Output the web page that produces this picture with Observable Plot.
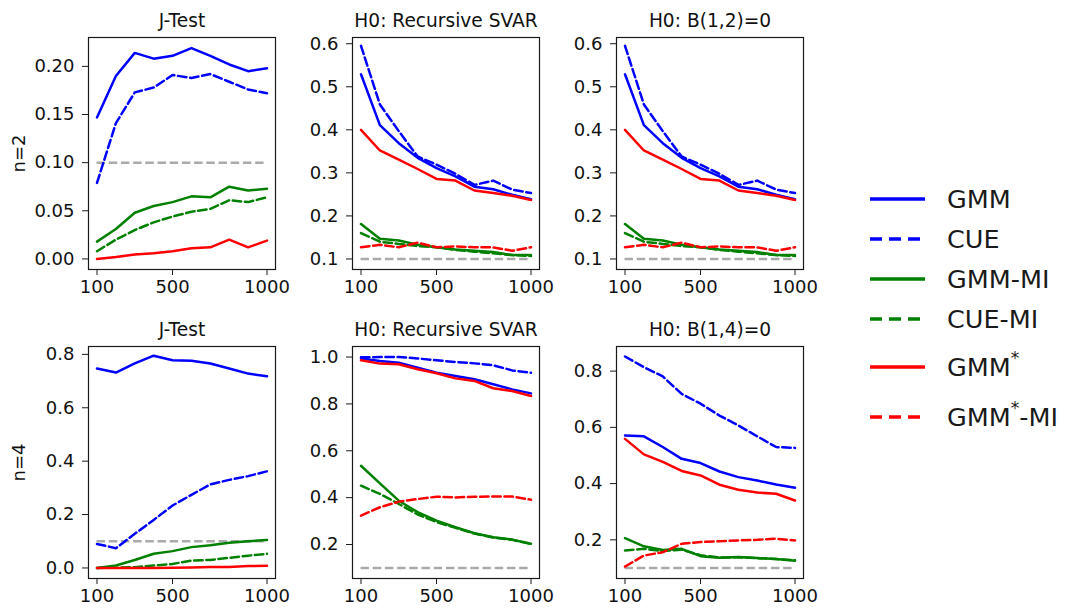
<!DOCTYPE html>
<html>
<head>
<meta charset="utf-8">
<script src="https://cdn.jsdelivr.net/npm/d3@7"></script>
<script src="https://cdn.jsdelivr.net/npm/@observablehq/plot@0.6"></script>
<style>
  html, body { margin: 0; padding: 0; background: #fff; }
  #root { position: relative; width: 1073px; height: 609px; overflow: hidden; font-family: "DejaVu Sans", sans-serif; }
  #root > svg, #root > div { position: absolute; }
</style>
</head>
<body>
<div id="root"></div>
<script>
// ---------- data ----------
const sampleSizes = [100, 200, 300, 400, 500, 600, 700, 800, 900, 1000];
const xTickValues = [100, 500, 1000];
const nominalLevel = 0.1;

const seriesNames = ["GMM", "CUE", "GMM-MI", "CUE-MI", "GMM*", "GMM*-MI"];
const seriesColors = ["#0000ff", "#0000ff", "#008000", "#008000", "#ff0000", "#ff0000"];
const seriesDashed = [false, true, false, true, false, true];

const panelTitles = ["J-Test", "H0: Recursive SVAR", "H0: B(1,2)=0", "J-Test", "H0: Recursive SVAR", "H0: B(1,4)=0"];
const rowLabels = ["n=2", "n=4"];

// n=2, J-Test
const j2GMM     = [0.147, 0.190, 0.214, 0.208, 0.211, 0.219, 0.211, 0.202, 0.195, 0.198];
const j2CUE     = [0.079, 0.141, 0.173, 0.178, 0.191, 0.188, 0.192, 0.184, 0.176, 0.172];
const j2GMMMI   = [0.018, 0.031, 0.048, 0.055, 0.059, 0.065, 0.064, 0.075, 0.071, 0.073];
const j2CUEMI   = [0.008, 0.020, 0.030, 0.038, 0.044, 0.049, 0.052, 0.061, 0.059, 0.064];
const j2GMMstar = [0.000, 0.002, 0.0045, 0.006, 0.008, 0.011, 0.012, 0.020, 0.012, 0.019];

// n=2, H0: Recursive SVAR
const r2GMM       = [0.529, 0.411, 0.369, 0.335, 0.311, 0.292, 0.268, 0.262, 0.249, 0.239];
const r2CUE       = [0.595, 0.459, 0.397, 0.338, 0.319, 0.298, 0.272, 0.282, 0.261, 0.253];
const r2GMMMI     = [0.181, 0.147, 0.143, 0.133, 0.127, 0.122, 0.119, 0.116, 0.109, 0.109];
const r2CUEMI     = [0.160, 0.140, 0.135, 0.130, 0.127, 0.121, 0.117, 0.113, 0.109, 0.107];
const r2GMMstar   = [0.400, 0.352, 0.331, 0.309, 0.286, 0.282, 0.259, 0.253, 0.247, 0.237];
const r2GMMstarMI = [0.127, 0.133, 0.127, 0.138, 0.127, 0.129, 0.127, 0.127, 0.119, 0.127];

// n=2, H0: B(1,2)=0
const b2GMM       = [0.529, 0.411, 0.369, 0.335, 0.311, 0.292, 0.268, 0.262, 0.249, 0.239];
const b2CUE       = [0.595, 0.459, 0.397, 0.338, 0.319, 0.298, 0.272, 0.282, 0.261, 0.253];
const b2GMMMI     = [0.181, 0.147, 0.143, 0.133, 0.127, 0.122, 0.119, 0.116, 0.109, 0.109];
const b2CUEMI     = [0.160, 0.140, 0.135, 0.130, 0.127, 0.121, 0.117, 0.113, 0.109, 0.107];
const b2GMMstar   = [0.400, 0.352, 0.331, 0.309, 0.286, 0.282, 0.259, 0.253, 0.247, 0.237];
const b2GMMstarMI = [0.127, 0.133, 0.127, 0.138, 0.127, 0.129, 0.127, 0.127, 0.119, 0.127];

// n=4, J-Test
const j4GMM     = [0.747, 0.732, 0.766, 0.795, 0.778, 0.776, 0.766, 0.747, 0.728, 0.718];
const j4CUE     = [0.090, 0.074, 0.128, 0.180, 0.234, 0.274, 0.313, 0.330, 0.344, 0.362];
const j4GMMMI   = [0.000, 0.009, 0.030, 0.053, 0.063, 0.078, 0.085, 0.094, 0.100, 0.105];
const j4CUEMI   = [0.000, 0.001, 0.003, 0.009, 0.015, 0.028, 0.030, 0.038, 0.046, 0.053];
const j4GMMstar = [0.000, 0.000, 0.000, 0.000, 0.001, 0.002, 0.004, 0.004, 0.007, 0.008];

// n=4, H0: Recursive SVAR
const r4GMM       = [0.994, 0.983, 0.976, 0.955, 0.933, 0.919, 0.905, 0.884, 0.862, 0.845];
const r4CUE       = [0.999, 1.000, 1.000, 0.994, 0.986, 0.979, 0.973, 0.965, 0.943, 0.933];
const r4GMMMI     = [0.536, 0.461, 0.387, 0.338, 0.302, 0.274, 0.248, 0.231, 0.221, 0.203];
const r4CUEMI     = [0.451, 0.416, 0.373, 0.328, 0.296, 0.271, 0.247, 0.230, 0.220, 0.202];
const r4GMMstar   = [0.986, 0.972, 0.969, 0.948, 0.931, 0.909, 0.898, 0.867, 0.855, 0.834];
const r4GMMstarMI = [0.323, 0.359, 0.383, 0.394, 0.404, 0.401, 0.404, 0.405, 0.405, 0.391];

// n=4, H0: B(1,4)=0
const b4GMM       = [0.571, 0.568, 0.530, 0.488, 0.473, 0.443, 0.423, 0.411, 0.397, 0.385];
const b4CUE       = [0.852, 0.814, 0.781, 0.719, 0.684, 0.642, 0.607, 0.568, 0.530, 0.527];
const b4GMMMI     = [0.206, 0.177, 0.164, 0.168, 0.142, 0.136, 0.139, 0.135, 0.132, 0.126];
const b4CUEMI     = [0.162, 0.168, 0.160, 0.165, 0.145, 0.137, 0.138, 0.135, 0.132, 0.127];
const b4GMMstar   = [0.559, 0.504, 0.477, 0.445, 0.429, 0.396, 0.378, 0.368, 0.364, 0.340];
const b4GMMstarMI = [0.105, 0.144, 0.156, 0.186, 0.192, 0.195, 0.198, 0.200, 0.204, 0.198];

// y ticks per panel
const yTicksJ2 = [0, 0.05, 0.10, 0.15, 0.20];
const yTicksR2 = [0.1, 0.2, 0.3, 0.4, 0.5, 0.6];
const yTicksJ4 = [0, 0.2, 0.4, 0.6, 0.8];
const yTicksR4 = [0.2, 0.4, 0.6, 0.8, 1.0];
const yTicksB4 = [0.2, 0.4, 0.6, 0.8];

// ---------- layout / style ----------
const FW = 187, FH = 232;           // frame size
const ML = 80, MT = 37, MR = 40, MB = 45;
const LW = 2.5, DASH = "8.5,3.7";
const FONT = "DejaVu Sans";
const TICK_FS = 18, TITLE_FS = 18.6;

const panels = [
  {title: panelTitles[0], row: rowLabels[0], fx: 88,  fy: 37,  dom: [-0.011, 0.230], ticks: yTicksJ2, fmt: ".2f",
   series: [j2GMM, j2CUE, j2GMMMI, j2CUEMI, j2GMMstar, null]},
  {title: panelTitles[1], row: null, fx: 352, fy: 37, dom: [0.0755, 0.6145], ticks: yTicksR2, fmt: ".1f",
   series: [r2GMM, r2CUE, r2GMMMI, r2CUEMI, r2GMMstar, r2GMMstarMI]},
  {title: panelTitles[2], row: null, fx: 616, fy: 37, dom: [0.0755, 0.6145], ticks: yTicksR2, fmt: ".1f",
   series: [b2GMM, b2CUE, b2GMMMI, b2CUEMI, b2GMMstar, b2GMMstarMI]},
  {title: panelTitles[3], row: rowLabels[1], fx: 88,  fy: 346, dom: [-0.0395, 0.8295], ticks: yTicksJ4, fmt: ".1f",
   series: [j4GMM, j4CUE, j4GMMMI, j4CUEMI, j4GMMstar, null]},
  {title: panelTitles[4], row: null, fx: 352, fy: 346, dom: [0.055, 1.045], ticks: yTicksR4, fmt: ".1f",
   series: [r4GMM, r4CUE, r4GMMMI, r4CUEMI, r4GMMstar, r4GMMstarMI]},
  {title: panelTitles[5], row: null, fx: 616, fy: 346, dom: [0.0625, 0.8875], ticks: yTicksB4, fmt: ".1f",
   series: [b4GMM, b4CUE, b4GMMMI, b4CUEMI, b4GMMstar, b4GMMstarMI]}
];

const root = document.getElementById("root");

for (const p of panels) {
  const marks = [];
  marks.push(Plot.ruleY([nominalLevel], {x1: sampleSizes[0], x2: sampleSizes[sampleSizes.length - 1],
    stroke: "#aaaaaa", strokeWidth: LW, strokeDasharray: DASH}));
  p.series.forEach((vals, i) => {
    if (!vals) return;
    const rows = sampleSizes.map((n, k) => ({n, rate: vals[k]}));
    marks.push(Plot.line(rows, {x: "n", y: "rate", stroke: seriesColors[i], strokeWidth: LW,
      strokeDasharray: seriesDashed[i] ? DASH : null, strokeLinejoin: "round"}));
  });
  marks.push(Plot.frame({stroke: "#1a1a1a", strokeWidth: 1.2}));
  marks.push(Plot.axisX(xTickValues, {tickSize: 6, tickPadding: 5, fontSize: TICK_FS, label: null,
    tickFormat: d3.format("d"), stroke: "#1a1a1a"}));
  marks.push(Plot.axisY(p.ticks, {tickSize: 6, tickPadding: 8, fontSize: TICK_FS, label: null,
    tickFormat: d3.format(p.fmt), stroke: "#1a1a1a"}));
  marks.push(Plot.text([p.title], {frameAnchor: "top", lineAnchor: "middle", textAnchor: "middle",
    dy: -16, fontSize: TITLE_FS, fill: "#111"}));
  if (p.row) {
    marks.push(Plot.text([p.row], {frameAnchor: "left", lineAnchor: "middle", textAnchor: "middle",
      dx: -69, rotate: -90, fontSize: TICK_FS, fill: "#111"}));
  }
  const chart = Plot.plot({
    width: ML + FW + MR,
    height: MT + FH + MB,
    marginLeft: ML, marginRight: MR, marginTop: MT, marginBottom: MB,
    x: {domain: [55, 1045]},
    y: {domain: p.dom},
    style: {fontFamily: FONT, fontSize: TICK_FS + "px", color: "#111", background: "transparent", overflow: "visible"},
    marks
  });
  chart.style.left = (p.fx - ML) + "px";
  chart.style.top = (p.fy - MT) + "px";
  root.appendChild(chart);
}

// ---------- legend ----------
const legendRowsY = [199, 239, 279, 319, 367, 417];
const LEG_FS = 25.5;
const leg = d3.select(root).append("svg")
  .attr("width", 233).attr("height", 300)
  .style("left", "840px").style("top", "170px")
  .style("font-family", FONT);
seriesNames.forEach((name, i) => {
  const y = legendRowsY[i] - 170;
  leg.append("line")
    .attr("x1", 30).attr("x2", 85).attr("y1", y).attr("y2", y)
    .attr("stroke", seriesColors[i]).attr("stroke-width", 3.3)
    .attr("stroke-dasharray", seriesDashed[i] ? "12,7" : null);
  const t = leg.append("text").attr("x", 107).attr("y", y).attr("dy", "0.36em")
    .attr("font-size", LEG_FS).attr("fill", "#1a1a1a");
  if (name.includes("*")) {
    const [base, rest] = name.split("*");
    t.append("tspan").text(base);
    t.append("tspan").attr("dy", -12).attr("font-size", 17).text("*");
    if (rest) t.append("tspan").attr("dy", 12).attr("font-size", LEG_FS).text(rest);
  } else {
    t.text(name);
  }
});
</script>
</body>
</html>
